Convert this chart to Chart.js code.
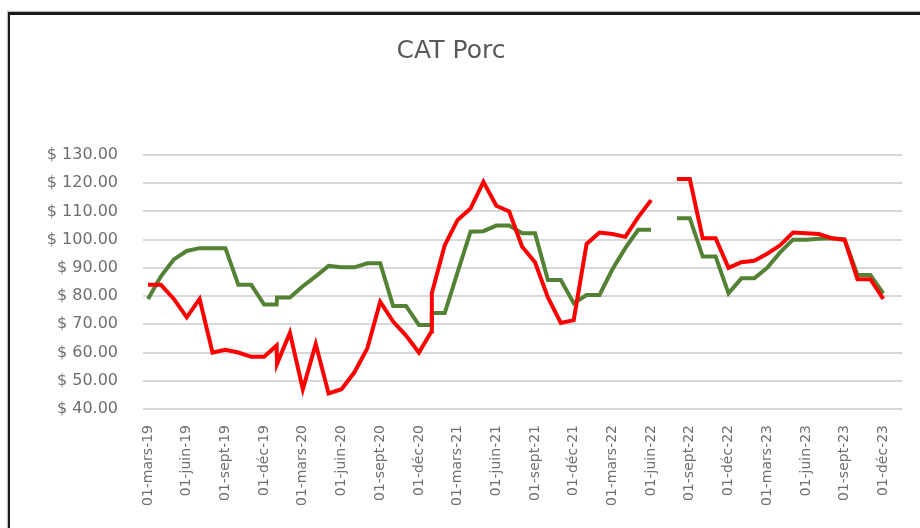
<!DOCTYPE html>
<html>
<head>
<meta charset="utf-8">
<script src="https://cdn.jsdelivr.net/npm/chart.js@4.4.1/dist/chart.umd.min.js"></script>
<style>
  html, body { margin: 0; padding: 0; background: #fff; }
  .wrap { position: relative; width: 920px; height: 528px; overflow: hidden; }
  .frame {
    position: absolute; left: 8px; top: 12px; width: 940px; height: 540px;
    border-top: 3px solid #1a1a1a; border-left: 2px solid #1a1a1a;
    box-shadow: -1px -1px 1px rgba(0,0,0,0.25);
  }
  canvas { position: absolute; left: 0; top: 0; }
</style>
</head>
<body>
<div class="wrap">
  <div class="frame"></div>
  <canvas id="porcChart" width="920" height="528"></canvas>
</div>
<script>
// positions in months from 01-mars-19 (two rows fall in janv-20 and janv-21)
const moisIndex = [
  0, 1, 2, 3, 4, 5, 6, 7, 8, 9, 9.97, 10, 11, 12, 13, 14, 15, 16, 17, 18, 19, 20, 21, 21.97, 22,
  23, 24, 25, 26, 27, 28, 29, 30, 31, 32, 33, 34, 35, 36, 37, 38, 39, 40, 41, 42, 43, 44, 45,
  46, 47, 48, 49, 50, 51, 52, 53, 54, 55, 56, 57
]
const serieRouge = [
  84, 84, 79, 72.5, 79, 60, 61, 60, 58.5, 58.5, 62.5, 56, 67, 47, 63, 45.5, 47, 53, 61.5, 78, 71, 66, 60, 67.5, 81,
  98, 107, 111, 120.5, 112, 110, 97.5, 92, 79.5, 70.5, 71.5, 98.5, 102.5, 102, 101, 108, 114, null, 121.5, 121.5, 100.5, 100.5, 90,
  92, 92.5, 95, 98, 102.5, 102.3, 102, 100.5, 100, 86, 86, 79
]
const serieVerte = [
  79, 87, 93, 96, 97, 97, 97, 84, 84, 77, 77, 79.5, 79.5, 83.5, 87, 90.7, 90.2, 90.2, 91.6, 91.6, 76.5, 76.5, 69.8, 69.8, 74,
  74, 88.5, 102.8, 103, 105, 105, 102.3, 102.3, 85.7, 85.7, 77.5, 80.4, 80.4, 89.5, 97, 103.5, 103.5, null, 107.6, 107.6, 94, 94, 81,
  86.3, 86.3, 90, 95.5, 100, 100, 100.3, 100.5, 100, 87.5, 87.5, 81
]
const etiquettesX = [
  "01-mars-19", "01-juin-19", "01-sept-19", "01-déc-19",
  "01-mars-20", "01-juin-20", "01-sept-20", "01-déc-20",
  "01-mars-21", "01-juin-21", "01-sept-21", "01-déc-21",
  "01-mars-22", "01-juin-22", "01-sept-22", "01-déc-22",
  "01-mars-23", "01-juin-23", "01-sept-23", "01-déc-23"
]
const ticksY = [40, 50, 60, 70, 80, 90, 100, 110, 120, 130]

const toPoints = (values) => values.map((v, i) => ({ x: moisIndex[i], y: v }))

const labelFont = { family: "DejaVu Sans", size: 16 }
const tickColor = "#6f6f6f"

new Chart(document.getElementById("porcChart"), {
  type: "line",
  data: {
    datasets: [
      {
        label: "Rouge",
        data: toPoints(serieRouge),
        borderColor: "#ff0000",
        borderWidth: 4,
        pointRadius: 0,
        tension: 0,
        spanGaps: false,
      },
      {
        label: "Vert",
        data: toPoints(serieVerte),
        borderColor: "#548235",
        borderWidth: 4,
        pointRadius: 0,
        tension: 0,
        spanGaps: false,
      },
    ],
  },
  options: {
    responsive: false,
    animation: false,
    layout: { padding: { left: 0, right: 18, top: 0, bottom: 0 } },
    plugins: {
      legend: { display: false },
      tooltip: { enabled: false },
      title: {
        display: true,
        text: "CAT Porc",
        color: "#595959",
        font: { family: "DejaVu Sans", size: 25, weight: "normal" },
        padding: { top: 36, bottom: 89 },
      },
    },
    scales: {
      x: {
        type: "linear",
        min: -0.39,
        max: 58.45,
        grid: { display: false },
        border: { display: false },
        afterBuildTicks: (scale) => {
          scale.ticks = etiquettesX.map((_, i) => ({ value: i * 3 }))
        },
        afterFit: (scale) => {
          scale.height = 119
        },
        ticks: {
          autoSkip: false,
          minRotation: 90,
          maxRotation: 90,
          padding: 8,
          color: tickColor,
          font: { family: "DejaVu Sans", size: 14 },
          callback: (value) => etiquettesX[Math.round(value / 3)],
        },
      },
      y: {
        min: 40,
        max: 130,
        grid: { color: "#d9d9d9", lineWidth: 2, drawTicks: false },
        border: { display: false },
        afterBuildTicks: (scale) => {
          scale.ticks = ticksY.map((v) => ({ value: v }))
        },
        afterFit: (scale) => {
          scale.width = 143
        },
        ticks: {
          padding: 25,
          color: tickColor,
          font: labelFont,
          callback: (value) => "$ " + value.toFixed(2),
        },
      },
    },
  },
})
</script>
</body>
</html>
